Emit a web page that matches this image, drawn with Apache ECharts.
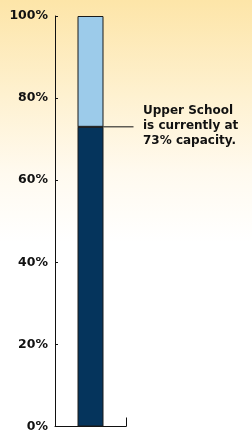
<!DOCTYPE html>
<html>
<head>
<meta charset="utf-8">
<script src="https://cdn.jsdelivr.net/npm/echarts@6/dist/echarts.min.js"></script>
<style>
  html, body { margin: 0; padding: 0; }
  #chart {
    width: 252px; height: 433px;
    background: linear-gradient(to bottom, #fde5a8 0%, #fef1d0 22%, #fffaef 40%, #ffffff 56%);
  }
</style>
</head>
<body>
<div id="chart"></div>
<script>
  // data
  var categories = ['Upper School'];
  var usedValues = [73];
  var openValues = [27];
  var noteLines = ['Upper School', 'is currently at', '73% capacity.'];

  var chart = echarts.init(document.getElementById('chart'));

  var option = {
    animation: false,
    grid: { left: 55, right: 126, top: 16, bottom: 4 },
    xAxis: {
      type: 'category',
      data: categories,
      axisLine: { lineStyle: { color: '#111', width: 1 } },
      axisTick: { show: true, inside: true, length: 9, lineStyle: { color: '#111' } },
      axisLabel: { show: false }
    },
    yAxis: {
      type: 'value',
      min: 0,
      max: 100,
      interval: 20,
      splitLine: { show: false },
      axisLine: { show: true, lineStyle: { color: '#111', width: 1 } },
      axisTick: { show: true, inside: true, length: 3, lineStyle: { color: '#111' } },
      axisLabel: {
        formatter: '{value}%',
        color: '#111',
        fontFamily: 'DejaVu Sans',
        fontWeight: 'bold',
        fontSize: 12.5,
        margin: 7
      }
    },
    series: [
      {
        name: 'Used',
        type: 'bar',
        stack: 'cap',
        barWidth: 26,
        data: usedValues,
        itemStyle: { color: '#05345c', borderColor: '#1a1a1a', borderWidth: 1 }
      },
      {
        name: 'Open',
        type: 'bar',
        stack: 'cap',
        barWidth: 26,
        data: openValues,
        itemStyle: { color: '#9ccbea', borderColor: '#1a1a1a', borderWidth: 1 }
      }
    ]
  };

  chart.setOption(option);

  // annotation line and note at the used level
  var p = chart.convertToPixel({ xAxisIndex: 0, yAxisIndex: 0 }, [0, usedValues[0]]);
  chart.setOption({
    graphic: [
      {
        type: 'line',
        shape: { x1: p[0] - 13, y1: p[1], x2: p[0] + 43, y2: p[1] },
        style: { stroke: '#111', lineWidth: 1 }
      },
      {
        type: 'text',
        left: 143,
        top: p[1] - 23,
        style: {
          text: noteLines.join('\n'),
          fill: '#111',
          font: 'bold 12px "DejaVu Sans"',
          lineHeight: 15,
          align: 'left'
        }
      }
    ]
  });
</script>
</body>
</html>
